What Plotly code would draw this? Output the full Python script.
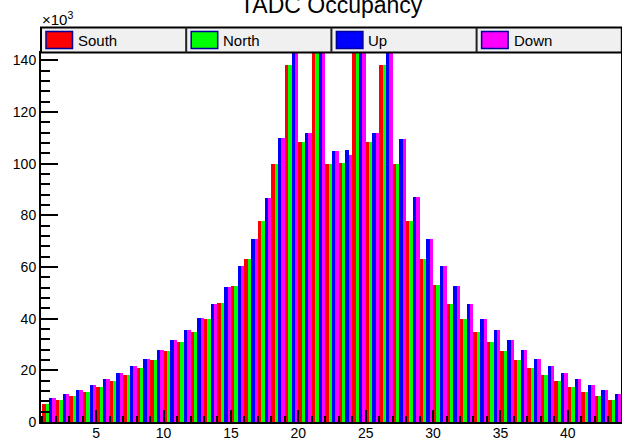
import plotly.graph_objects as go

# ---- data (counts per channel bin) ----
bins = list(range(1, 44))
south = [7100, 8400, 10000, 11500, 13400, 15700, 18100, 20800, 23900, 27300,
         30800, 35000, 39700, 45900, 52600, 63000, 77800, 99800, 138200, 108200,
         150000, 100000, 100300, 150000, 108200, 138200, 99700, 77600, 63200, 52900,
         45500, 39700, 34700, 30800, 27300, 23900, 20800, 18100, 15700, 13400,
         11500, 9900, 8400]
north = [7100, 8400, 10000, 11500, 13400, 15700, 18100, 20800, 23900, 27300,
         30800, 35000, 39700, 45900, 52600, 63000, 77800, 99800, 138200, 108200,
         150000, 100000, 100300, 150000, 108200, 138200, 99700, 77600, 63200, 52900,
         45500, 39700, 35000, 30800, 27300, 23900, 20800, 18100, 15700, 13400,
         11500, 9900, 8400]
up = [9200, 10700, 12300, 14200, 16500, 18900, 21500, 24500, 28000, 31600,
      35500, 40100, 45500, 52200, 60500, 70900, 86600, 109900, 155000, 111700,
      160000, 104800, 105100, 160000, 112000, 155000, 109600, 87000, 70700, 60200,
      52500, 45500, 39700, 35500, 31600, 27700, 24200, 21500, 19100, 16500,
      14200, 12300, 10700]
down = [9200, 10700, 12300, 14200, 16500, 18900, 21500, 24500, 28000, 31600,
        35500, 40100, 45500, 52200, 60500, 70900, 86600, 109900, 155000, 111700,
        160000, 104800, 103500, 160000, 112000, 155000, 109600, 87000, 70700, 60200,
        52500, 45500, 39700, 35500, 31600, 27700, 24200, 21500, 19100, 16500,
        14200, 12300, 10700]

series_names = ["South", "North", "Up", "Down"]
series_colors = ["#ff0000", "#00ff00", "#0000ff", "#ff00ff"]
y_tick_values_k = [0, 20, 40, 60, 80, 100, 120, 140]

# ---- layout geometry (pixels) ----
W, H = 622, 438
ML, MR, MT, MB = 41, 1, 53, 16
PW = W - ML - MR
PH = H - MT - MB


def px_x(p):
    return (p - ML) / PW


def px_y(p):
    return (H - MB - p) / PH


fig = go.Figure()
bar_w = 0.25
for i, (name, vals, col) in enumerate(zip(series_names, [south, north, up, down], series_colors)):
    fig.add_trace(go.Bar(
        x=bins, y=vals, name=name, width=bar_w, offset=i * bar_w,
        marker=dict(color=col, line=dict(width=0)), showlegend=False,
    ))

fig.update_layout(
    width=W, height=H,
    margin=dict(l=ML, r=MR, t=MT, b=MB, autoexpand=False),
    paper_bgcolor="white", plot_bgcolor="white",
    barmode="overlay", bargap=0,
    font=dict(family="Liberation Sans, Arial, Helvetica, sans-serif", color="black", size=14),
)

fig.update_xaxes(
    range=[0.9, 43.95], showgrid=False, zeroline=False,
    showline=True, linecolor="black", linewidth=2, mirror=True,
    ticks="inside", tick0=0, dtick=5, ticklen=12, tickwidth=1.5, tickcolor="black",
    minor=dict(ticks="inside", dtick=1, tick0=0, ticklen=6, tickwidth=1.5, tickcolor="black"),
    tickfont=dict(size=14), ticklabelstandoff=-3,
)
fig.update_yaxes(
    range=[0, 142800], showgrid=False, zeroline=False,
    showline=True, linecolor="black", linewidth=2, mirror=True,
    ticks="inside", tickmode="array",
    tickvals=[v * 1000 for v in y_tick_values_k], ticktext=[str(v) for v in y_tick_values_k],
    ticklen=17, tickwidth=1.5, tickcolor="black",
    minor=dict(ticks="inside", dtick=4000, tick0=0, ticklen=9, tickwidth=1.5, tickcolor="black"),
    tickfont=dict(size=14),
)

shapes = []
annotations = []

# legend box
leg_top, leg_bot = 27.5, 52.5
leg_left, cell_w = 41, 145.2
shapes.append(dict(type="rect", xref="paper", yref="paper",
                   x0=px_x(leg_left), x1=px_x(leg_left + 4 * cell_w),
                   y0=px_y(leg_bot), y1=px_y(leg_top),
                   fillcolor="#f0f0f0", line=dict(color="black", width=2), layer="above"))
for i, (name, col) in enumerate(zip(series_names, series_colors)):
    cl = leg_left + i * cell_w
    if i > 0:
        shapes.append(dict(type="line", xref="paper", yref="paper",
                           x0=px_x(cl), x1=px_x(cl), y0=px_y(leg_bot), y1=px_y(leg_top),
                           line=dict(color="#222222", width=2), layer="above"))
    shapes.append(dict(type="rect", xref="paper", yref="paper",
                       x0=px_x(cl + 5), x1=px_x(cl + 31.5),
                       y0=px_y(48.5), y1=px_y(31.5),
                       fillcolor=col, line=dict(color="#000099", width=1.5), layer="above"))
    annotations.append(dict(xref="paper", yref="paper", x=px_x(cl + 35), y=px_y(40.5),
                            xanchor="left", yanchor="middle", showarrow=False,
                            text=name, font=dict(size=15, color="black")))

# title (partly cut off at top, as in the reference)
annotations.append(dict(xref="paper", yref="paper", x=px_x(331), y=px_y(5),
                        xanchor="center", yanchor="middle", showarrow=False,
                        text="TADC Occupancy", font=dict(size=23, color="black")))
# exponent label
annotations.append(dict(xref="paper", yref="paper", x=px_x(40), y=px_y(29.5),
                        xanchor="left", yanchor="bottom", showarrow=False,
                        text="×10<sup>3</sup>", font=dict(size=15, color="black")))

fig.update_layout(shapes=shapes, annotations=annotations)
fig.write_html("out.html", config={"displayModeBar": False},
               post_script="document.body.style.margin='0';document.body.style.padding='0';")
